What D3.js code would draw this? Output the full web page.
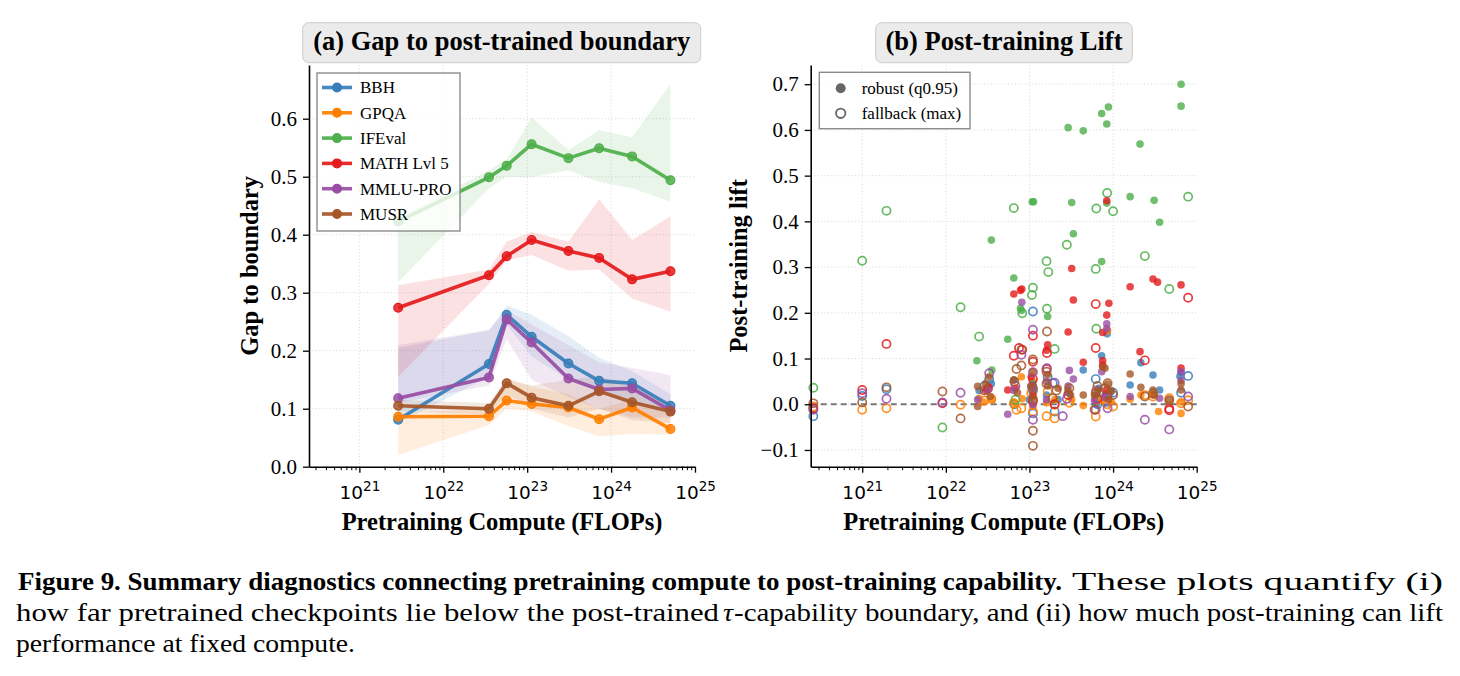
<!DOCTYPE html>
<html>
<head>
<meta charset="utf-8">
<script src="https://cdn.jsdelivr.net/npm/d3@7"></script>
<style>
  body { margin: 0; background: #fff; }
  svg { display: block; }
</style>
</head>
<body>
<svg id="fig" width="1460" height="676"></svg>
<script>
// ---- data: panel (a) gap to post-trained boundary ----
var benchmarks = ["BBH", "GPQA", "IFEval", "MATH Lvl 5", "MMLU-PRO", "MUSR"];
var colors = ["#377eb8", "#ff7f00", "#4daf4a", "#e41a1c", "#984ea3", "#a65628"];
var computeA = [2.9e21, 3.5e22, 5.7e22, 1.13e23, 3.1e23, 7.2e23, 1.78e24, 5.1e24];

var gapBBH = [0.081, 0.177, 0.262, 0.224, 0.178, 0.148, 0.144, 0.105];
var lowBBH = [0.075, 0.155, 0.245, 0.19, 0.15, 0.13, 0.11, 0.095];
var highBBH = [0.205, 0.235, 0.278, 0.262, 0.225, 0.188, 0.165, 0.125];

var gapGPQA = [0.086, 0.087, 0.114, 0.108, 0.102, 0.082, 0.102, 0.065];
var lowGPQA = [0.02, 0.072, 0.10, 0.095, 0.07, 0.052, 0.057, 0.055];
var highGPQA = [0.092, 0.10, 0.15, 0.138, 0.125, 0.10, 0.115, 0.09];

var gapIFEval = [0.423, 0.499, 0.519, 0.556, 0.532, 0.549, 0.535, 0.494];
var lowIFEval = [0.318, 0.48, 0.50, 0.499, 0.511, 0.491, 0.48, 0.457];
var highIFEval = [0.43, 0.511, 0.53, 0.602, 0.546, 0.58, 0.568, 0.66];

var gapMATH = [0.274, 0.330, 0.363, 0.391, 0.372, 0.360, 0.323, 0.337];
var lowMATH = [0.155, 0.315, 0.356, 0.365, 0.338, 0.34, 0.29, 0.267];
var highMATH = [0.313, 0.34, 0.388, 0.405, 0.388, 0.461, 0.391, 0.432];

var gapMMLU = [0.118, 0.154, 0.254, 0.214, 0.152, 0.133, 0.135, 0.097];
var lowMMLU = [0.11, 0.14, 0.22, 0.15, 0.12, 0.10, 0.085, 0.085];
var highMMLU = [0.21, 0.236, 0.27, 0.245, 0.21, 0.18, 0.17, 0.158];

var gapMUSR = [0.105, 0.100, 0.144, 0.119, 0.105, 0.130, 0.111, 0.095];
var lowMUSR = [0.095, 0.09, 0.125, 0.10, 0.085, 0.10, 0.08, 0.075];
var highMUSR = [0.115, 0.11, 0.152, 0.14, 0.15, 0.155, 0.14, 0.11];

// ---- data: panel (b) post-training lift, [compute, lift] ----
var robustBBH = [[7.3e23, 0.106], [8.5e23, 0.154], [2.15e24, 0.091], [3.0e24, 0.064], [3.6e24, 0.031],
  [4.4e23, 0.075], [1.6e24, 0.042], [6.3e24, 0.061], [6.5e22, 0.053], [1.1e23, 0.035], [9.5e23, 0.028],
  [2.5e22, 0.03], [6.3e23, 0.0], [1.6e23, 0.02], [2.9e23, 0.025], [6.5e24, 0.07], [1.0e23, 0.01],
  [8.0e23, 0.02], [3.5e22, 0.045], [6.8e23, 0.035], [2.2e23, 0.01]];
var robustGPQA = [[8.6e23, 0.161], [3.5e24, -0.016], [6.5e24, -0.02], [1.6e24, 0.011], [2.15e24, 0.02],
  [1.1e23, 0.05], [2.5e22, 0.013], [3.6e22, 0.01], [7.5e23, 0.009], [3.2e23, 0.01], [6.5e22, 0.005],
  [1.6e23, 0.003], [9.5e23, 0.005], [4.4e23, -0.003], [8.0e22, 0.06], [3.0e24, 0.02], [1.1e23, -0.005],
  [6.5e23, 0.015], [2.8e22, 0.005], [8.2e22, 0.012], [2.0e23, 0.01], [6.5e24, 0.005]];
var robustIFEval = [[6.5e24, 0.700], [6.5e24, 0.652], [2.9e23, 0.605], [4.4e23, 0.598], [7.3e23, 0.636],
  [8.8e23, 0.650], [8.4e23, 0.613], [2.1e24, 0.569], [1.08e23, 0.443], [1.12e23, 0.443], [3.2e23, 0.441],
  [1.6e24, 0.454], [3.1e24, 0.446], [3.6e24, 0.398], [8.4e23, 0.440], [3.5e22, 0.359], [3.35e23, 0.373],
  [7.3e23, 0.312], [6.5e22, 0.276], [8.0e22, 0.205], [1.65e23, 0.192], [5.5e22, 0.142], [2.35e22, 0.095],
  [3.55e22, 0.075], [1.1e23, 0.045], [6.3e23, 0.02], [7.8e22, 0.21]];
var robustMATH = [[8.4e23, 0.445], [3.2e23, 0.297], [3.0e24, 0.274], [3.4e24, 0.267], [6.5e24, 0.261],
  [1.6e24, 0.257], [6.5e22, 0.241], [8.1e22, 0.252], [7.8e22, 0.249], [3.35e23, 0.228], [8.9e23, 0.221],
  [8.4e23, 0.195], [2.9e23, 0.158], [7.5e23, 0.157], [1.65e23, 0.130], [4.4e23, 0.092], [7.5e23, 0.095],
  [2.1e24, 0.115], [6.5e24, 0.079], [5.5e22, 0.031], [1.1e23, 0.02], [3.2e22, 0.037], [7.5e23, 0.085],
  [1.6e23, 0.118], [3.0e22, 0.03], [1.05e23, 0.06], [6.8e22, 0.035], [8.2e23, 0.03]];
var robustMMLU = [[8.1e22, 0.223], [8.4e23, 0.176], [3.35e23, 0.055], [3.0e23, 0.074], [5.5e22, -0.022],
  [6.5e24, 0.071], [7.3e23, 0.071], [1.6e24, 0.017], [3.6e24, 0.013], [1.1e23, 0.039], [1.1e23, -0.001],
  [3.2e22, 0.031], [2.4e22, 0.01], [6.0e23, 0.009], [1.6e23, 0.05], [8.4e23, 0.165], [6.5e22, 0.03],
  [2.9e23, 0.04], [8.0e23, 0.015], [1.6e23, 0.01], [6.5e24, 0.052]];
var robustMUSR = [[1.6e24, 0.066], [6.5e24, 0.045], [6.5e24, 0.031], [8.0e23, 0.079], [8.6e23, 0.044],
  [2.15e24, 0.037], [3.0e24, 0.031], [1.1e23, 0.071], [1.1e23, 0.013], [6.5e22, 0.053], [2.4e22, 0.039],
  [2.4e22, -0.005], [3.4e22, 0.017], [1.65e23, 0.04], [2.9e23, 0.031], [3.1e23, 0.02], [6.0e23, 0.02],
  [4.7e24, 0.009], [4.4e23, 0.02], [9.5e23, 0.03], [7.5e23, 0.082], [3.3e22, 0.06], [3.0e22, 0.045],
  [7.2e22, 0.025], [1.05e23, 0.04], [1.65e23, 0.065], [6.5e23, 0.03], [8.8e23, 0.01], [2.2e23, 0.035],
  [3.1e24, 0.02]];

var fallbackBBH = [[1.1e23, 0.203], [6.2e23, 0.055], [7.9e24, 0.062], [2.6e20, -0.026], [1.0e21, 0.018],
  [1.95e21, 0.033], [3.3e22, 0.055], [6.6e22, 0.0], [1.9e23, 0.046], [2.0e23, -0.016], [1.1e23, -0.02],
  [6.5e23, 0.0], [1.0e24, 0.025], [1.1e23, 0.03], [2.9e22, 0.04], [1.65e23, 0.06], [8.2e23, 0.005],
  [6.5e24, 0.025]];
var fallbackGPQA = [[1.0e21, -0.012], [1.95e21, -0.009], [1.5e22, -0.001], [2.6e20, -0.005], [1.6e23, -0.026],
  [2.0e23, -0.031], [6.2e23, -0.027], [1.0e24, -0.005], [6.5e22, 0.002], [7.0e22, -0.012], [8.0e22, -0.009],
  [1.1e23, -0.016], [1.65e23, 0.028], [2.0e23, -0.001], [4.7e24, 0.013], [6.5e24, 0.002], [7.9e24, 0.009],
  [3.0e24, 0.017], [2.4e24, 0.02], [3.0e23, 0.003], [3.5e22, 0.012], [6.3e23, 0.01], [2.9e22, 0.008],
  [1.05e23, 0.025], [8.5e23, 0.0]];
var fallbackIFEval = [[1.0e21, 0.314], [1.95e21, 0.423], [6.5e22, 0.429], [8.5e23, 0.462], [6.3e23, 0.428],
  [1.0e24, 0.422], [7.9e24, 0.454], [2.8e23, 0.349], [1.6e23, 0.313], [1.68e23, 0.289], [6.2e23, 0.296],
  [2.4e24, 0.324], [1.5e22, 0.212], [2.5e22, 0.148], [1.1e23, 0.255], [1.07e23, 0.239], [8.2e22, 0.199],
  [1.62e23, 0.209], [2.0e23, 0.121], [6.3e23, 0.165], [4.7e24, 0.252], [2.6e20, 0.036], [9.1e21, -0.051],
  [8.0e22, 0.12], [6.8e22, 0.01]];
var fallbackMATH = [[1.95e21, 0.132], [6.2e23, 0.219], [7.9e24, 0.233], [6.2e23, 0.123], [1.62e23, 0.112],
  [1.1e23, 0.150], [7.5e22, 0.123], [2.4e24, 0.096], [1.0e21, 0.031], [4.7e24, -0.013], [4.7e24, -0.010],
  [6.5e22, 0.106], [8.2e22, 0.119], [1.1e23, 0.093], [1.6e23, 0.077], [9.1e21, 0.002], [3.2e22, 0.035],
  [1.1e23, 0.006], [2.6e20, -0.009], [8.6e23, 0.02], [2.0e23, 0.0], [1.1e23, 0.055], [6.5e23, 0.012],
  [2.9e23, 0.02]];
var fallbackMMLU = [[1.1e23, 0.163], [2.4e24, -0.034], [4.7e24, -0.055], [1.1e23, -0.034], [1.95e21, 0.012],
  [1.5e22, 0.025], [9.1e21, 0.004], [2.6e20, -0.012], [1.0e21, 0.024], [3.3e22, 0.068], [8.0e22, 0.108],
  [1.07e23, 0.039], [1.62e23, 0.079], [2.0e23, 0.047], [2.5e23, -0.026], [7.9e24, 0.017], [8.6e23, -0.009],
  [6.2e23, -0.012], [6.8e22, 0.04], [1.1e23, 0.07], [6.3e23, 0.03], [2.8e23, 0.012]];
var fallbackMUSR = [[1.1e23, 0.098], [1.1e23, -0.058], [1.1e23, -0.091], [1.62e23, 0.159], [1.5e22, -0.031],
  [9.1e21, 0.028], [1.95e21, 0.037], [8.6e23, 0.046], [7.9e24, -0.005], [1.0e21, 0.004], [2.6e20, 0.002],
  [7.0e22, 0.077], [1.6e23, 0.071], [1.9e23, 0.013], [6.2e23, 0.024], [6.0e23, -0.012], [2.4e24, 0.017],
  [3.0e24, 0.024], [4.7e24, 0.009], [2.1e23, 0.03], [3.0e23, 0.035], [1.1e23, 0.011], [6.6e22, 0.05],
  [8.0e23, 0.035], [2.9e22, 0.03], [1.1e23, 0.035], [1.6e23, 0.045], [1.0e24, 0.02], [6.5e23, 0.04],
  [8.0e22, 0.085]];

var yTicksA = [0, 0.1, 0.2, 0.3, 0.4, 0.5, 0.6];
var yTicksB = [-0.1, 0, 0.1, 0.2, 0.3, 0.4, 0.5, 0.6, 0.7];
var xMajor = [1e21, 1e22, 1e23, 1e24, 1e25];

var seriesA = [
  {gap: gapBBH, lo: lowBBH, hi: highBBH},
  {gap: gapGPQA, lo: lowGPQA, hi: highGPQA},
  {gap: gapIFEval, lo: lowIFEval, hi: highIFEval},
  {gap: gapMATH, lo: lowMATH, hi: highMATH},
  {gap: gapMMLU, lo: lowMMLU, hi: highMMLU},
  {gap: gapMUSR, lo: lowMUSR, hi: highMUSR}
];
var robustAll = [robustBBH, robustGPQA, robustIFEval, robustMATH, robustMMLU, robustMUSR];
var fallbackAll = [fallbackBBH, fallbackGPQA, fallbackIFEval, fallbackMATH, fallbackMMLU, fallbackMUSR];

var svg = d3.select("#fig");
var serif = "'Liberation Serif', 'Times New Roman', serif";
var sans = "'DejaVu Sans', sans-serif";

// minor ticks 2..9 per decade
var xMinor = [];
for (var e = 20; e < 25; e++) {
  for (var m = 2; m <= 9; m++) xMinor.push(m * Math.pow(10, e));
}

function drawFrame(box, x, y, yTicks) {
  var g = svg.append("g");
  // grid
  g.selectAll(".gx").data(xMajor.filter(d => d < 1e25)).enter().append("line")
    .attr("x1", d => x(d)).attr("x2", d => x(d))
    .attr("y1", box.top).attr("y2", box.bottom)
    .attr("stroke", "#d4d4d4").attr("stroke-width", 0.8).attr("stroke-dasharray", "1.2,2.2");
  g.selectAll(".gy").data(yTicks).enter().append("line")
    .attr("x1", box.left).attr("x2", box.right)
    .attr("y1", d => y(d)).attr("y2", d => y(d))
    .attr("stroke", "#d4d4d4").attr("stroke-width", 0.8).attr("stroke-dasharray", "1.2,2.2");
  return g;
}

function drawAxes(box, x, y, yTicks) {
  var minor = svg.append("g")
    .attr("transform", `translate(0,${box.bottom})`)
    .call(d3.axisBottom(x).tickValues(xMinor.filter(d => d >= x.domain()[0] && d <= x.domain()[1]))
      .tickSize(3.5).tickSizeOuter(0).tickFormat(""));
  minor.select(".domain").remove();
  minor.selectAll("line").attr("stroke-width", 1);

  var xa = svg.append("g")
    .attr("transform", `translate(0,${box.bottom})`)
    .call(d3.axisBottom(x).tickValues(xMajor).tickSize(6).tickSizeOuter(0).tickPadding(13));
  xa.select(".domain").attr("stroke-width", 1.6);
  xa.selectAll("line").attr("stroke-width", 1.3);
  xa.selectAll(".tick text").each(function(d) {
    var t = d3.select(this).text(null)
      .attr("font-family", sans).attr("font-size", 18.5).attr("fill", "#000");
    t.append("tspan").text("10");
    t.append("tspan").attr("dy", "-0.55em").attr("font-size", 13.5)
      .text(Math.round(Math.log10(d)));
  });

  var ya = svg.append("g")
    .attr("transform", `translate(${box.left},0)`)
    .call(d3.axisLeft(y).tickValues(yTicks).tickFormat(d3.format(".1f"))
      .tickSize(6).tickSizeOuter(0).tickPadding(6));
  ya.select(".domain").attr("stroke-width", 1.6);
  ya.selectAll("line").attr("stroke-width", 1.3);
  ya.selectAll(".tick text").attr("font-family", serif).attr("font-size", 21).attr("fill", "#000");
}

function titleBox(cx, w, label) {
  svg.append("rect")
    .attr("x", cx - w / 2).attr("y", 22.7).attr("width", w).attr("height", 40)
    .attr("rx", 6).attr("fill", "#ebebeb").attr("stroke", "#cccccc").attr("stroke-width", 1);
  svg.append("text")
    .attr("x", cx).attr("y", 50).attr("text-anchor", "middle")
    .attr("font-family", serif).attr("font-weight", "bold").attr("font-size", 26.5)
    .text(label);
}

function axisLabels(box, ylabel, ycx) {
  svg.append("text")
    .attr("x", (box.left + box.right) / 2).attr("y", 530).attr("text-anchor", "middle")
    .attr("font-family", serif).attr("font-weight", "bold").attr("font-size", 24.5)
    .text("Pretraining Compute (FLOPs)");
  svg.append("text")
    .attr("transform", `translate(${ycx},${(box.top + box.bottom) / 2}) rotate(-90)`)
    .attr("text-anchor", "middle")
    .attr("font-family", serif).attr("font-weight", "bold").attr("font-size", 24.5)
    .text(ylabel);
}

// ---------- panel (a) ----------
var boxA = {left: 309, right: 695, top: 65, bottom: 466.7};
var xA = d3.scaleLog().domain([2.51e20, 1e25]).range([boxA.left, boxA.right]);
var yA = d3.scaleLinear().domain([0, 0.6926]).range([boxA.bottom, boxA.top]);

drawFrame(boxA, xA, yA, yTicksA.filter(d => d > 0));

var gA = svg.append("g");
var area = d3.area()
  .x((d, i) => xA(computeA[i]))
  .y0(d => yA(d[0])).y1(d => yA(d[1]));
var line = d3.line()
  .x((d, i) => xA(computeA[i]))
  .y(d => yA(d));

seriesA.forEach(function(s, k) {
  gA.append("path")
    .datum(s.lo.map((v, i) => [v, s.hi[i]]))
    .attr("d", area)
    .attr("fill", colors[k]).attr("fill-opacity", 0.13);
});
seriesA.forEach(function(s, k) {
  gA.append("path")
    .datum(s.gap).attr("d", line)
    .attr("fill", "none").attr("stroke", colors[k]).attr("stroke-width", 3.6)
    .attr("stroke-opacity", 0.92).attr("stroke-linejoin", "round");
  gA.selectAll(null).data(s.gap).enter().append("circle")
    .attr("cx", (d, i) => xA(computeA[i])).attr("cy", d => yA(d))
    .attr("r", 4.4).attr("fill", colors[k]).attr("fill-opacity", 0.85)
    .attr("stroke", colors[k]).attr("stroke-width", 1.2);
});

drawAxes(boxA, xA, yA, yTicksA);
titleBox(501.7, 398, "(a) Gap to post-trained boundary");
axisLabels(boxA, "Gap to boundary", 258);

// legend (a)
var legA = svg.append("g");
legA.append("rect")
  .attr("x", 317).attr("y", 73).attr("width", 143).attr("height", 158)
  .attr("fill", "#fff").attr("fill-opacity", 0.8)
  .attr("stroke", "#8c8c8c").attr("stroke-width", 1.4);
benchmarks.forEach(function(b, k) {
  var yy = 87.5 + k * 25.3;
  legA.append("line").attr("x1", 322).attr("x2", 352).attr("y1", yy).attr("y2", yy)
    .attr("stroke", colors[k]).attr("stroke-width", 3.6).attr("stroke-opacity", 0.92);
  legA.append("circle").attr("cx", 337).attr("cy", yy).attr("r", 4.4)
    .attr("fill", colors[k]).attr("stroke", colors[k]).attr("stroke-width", 1.2);
  legA.append("text").attr("x", 360).attr("y", yy).attr("dy", "0.35em")
    .attr("font-family", serif).attr("font-size", 17).text(b);
});

// ---------- panel (b) ----------
var boxB = {left: 810.7, right: 1196.7, top: 65, bottom: 466.7};
var xB = d3.scaleLog().domain([2.42e20, 1e25]).range([boxB.left, boxB.right]);
var yB = d3.scaleLinear().domain([-0.1366, 0.742]).range([boxB.bottom, boxB.top]);

drawFrame(boxB, xB, yB, yTicksB);

svg.append("line")
  .attr("x1", boxB.left).attr("x2", boxB.right)
  .attr("y1", yB(0)).attr("y2", yB(0))
  .attr("stroke", "#777").attr("stroke-width", 1.8).attr("stroke-dasharray", "6,4");

var gB = svg.append("g");
benchmarks.forEach(function(b, k) {
  gB.selectAll(null).data(robustAll[k]).enter().append("circle")
    .attr("cx", d => xB(d[0])).attr("cy", d => yB(d[1]))
    .attr("r", 3.8).attr("fill", colors[k]).attr("fill-opacity", 0.8);
  gB.selectAll(null).data(fallbackAll[k]).enter().append("circle")
    .attr("cx", d => xB(d[0])).attr("cy", d => yB(d[1]))
    .attr("r", 4.1).attr("fill", "none").attr("stroke", colors[k])
    .attr("stroke-width", 1.7).attr("stroke-opacity", 0.85);
});

drawAxes(boxB, xB, yB, yTicksB);
titleBox(1004, 256.6, "(b) Post-training Lift");
axisLabels(boxB, "Post-training lift", 747);

// legend (b)
var legB = svg.append("g");
legB.append("rect")
  .attr("x", 819.3).attr("y", 72.3).attr("width", 150.7).attr("height", 56.4)
  .attr("fill", "#fff").attr("fill-opacity", 0.8)
  .attr("stroke", "#8c8c8c").attr("stroke-width", 1.4);
legB.append("circle").attr("cx", 840.7).attr("cy", 88.3).attr("r", 5)
  .attr("fill", "#555").attr("fill-opacity", 0.9);
legB.append("circle").attr("cx", 840.7).attr("cy", 113.3).attr("r", 4.7)
  .attr("fill", "none").attr("stroke", "#666").attr("stroke-width", 1.8);
legB.append("text").attr("x", 861.7).attr("y", 88.3).attr("dy", "0.35em")
  .attr("font-family", serif).attr("font-size", 17).text("robust (q0.95)");
legB.append("text").attr("x", 861.7).attr("y", 113.3).attr("dy", "0.35em")
  .attr("font-family", serif).attr("font-size", 17).text("fallback (max)");

// ---------- caption ----------
var cap = svg.append("g").attr("font-family", serif).attr("fill", "#000");
function capText(x, y, len, str, weight, style) {
  cap.append("text").attr("x", x).attr("y", y)
    .attr("font-size", 26)
    .attr("textLength", len).attr("lengthAdjust", "spacingAndGlyphs")
    .attr("font-weight", weight || "normal").attr("font-style", style || "normal")
    .text(str);
}
capText(18, 590, 1044, "Figure 9. Summary diagnostics connecting pretraining compute to post-training capability.", "bold");
capText(1072, 590, 371, "These plots quantify (i)");
capText(16, 621, 703, "how far pretrained checkpoints lie below the post-trained");
capText(723, 621, 10, "τ", "normal", "italic");
capText(734, 621, 709, "-capability boundary, and (ii) how much post-training can lift");
capText(16, 652, 339, "performance at fixed compute.");
</script>
</body>
</html>
